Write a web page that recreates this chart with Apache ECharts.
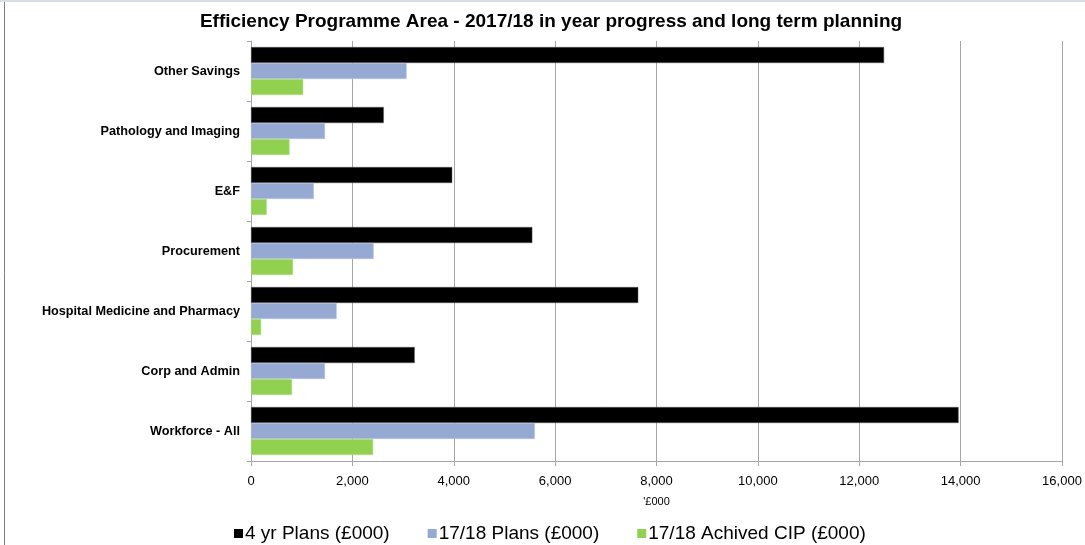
<!DOCTYPE html>
<html>
<head>
<meta charset="utf-8">
<script src="https://cdn.jsdelivr.net/npm/echarts@6/dist/echarts.min.js"></script>
<style>
  html, body { margin: 0; padding: 0; background: #ffffff; }
  #chart { width: 1085px; height: 545px; }
</style>
</head>
<body>
<div id="chart"></div>
<script>
// Programme areas, listed top to bottom
const categories = [
  'Other Savings',
  'Pathology and Imaging',
  'E&F',
  'Procurement',
  'Hospital Medicine and Pharmacy',
  'Corp and Admin',
  'Workforce - All'
];

// Values in £000
const fourYearPlans = [12490, 2620, 3970, 5550, 7640, 3230, 13960];
const plans1718 = [3070, 1460, 1240, 2420, 1690, 1460, 5600];
const achievedCIP1718 = [1030, 760, 310, 830, 200, 810, 2410];

const seriesNames = ['4 yr Plans (£000)', '17/18 Plans (£000)', '17/18 Achived CIP (£000)'];
const xTickMax = 16000;
const xTickStep = 2000;

const FONT = 'Liberation Sans, Arial, sans-serif';

const chart = echarts.init(document.getElementById('chart'));

chart.setOption({
  animation: false,
  backgroundColor: '#ffffff',
  title: {
    text: 'Efficiency Programme Area - 2017/18 in year progress and long term planning',
    left: 546,
    textAlign: 'center',
    top: 7,
    textStyle: { fontFamily: FONT, fontWeight: 'bold', fontSize: 19, color: '#000000' }
  },
  graphic: [
    { type: 'rect', shape: { x: 0, y: 0, width: 1085, height: 2 }, style: { fill: '#d6dee8' }, silent: true },
    { type: 'line', shape: { x1: 4.5, y1: 2, x2: 4.5, y2: 545 }, style: { stroke: '#7f7f7f', lineWidth: 1 }, silent: true }
  ],
  legend: {
    data: seriesNames,
    left: 229,
    top: 519,
    itemWidth: 9,
    itemHeight: 9,
    itemGap: 38,
    icon: 'rect',
    itemStyle: { borderWidth: 0 },
    textStyle: { fontFamily: FONT, fontSize: 19, color: '#000000', padding: [0, 0, 0, -3] }
  },
  grid: { left: 251, right: 23, top: 41, bottom: 84, containLabel: false },
  xAxis: {
    type: 'value',
    min: 0,
    max: xTickMax,
    interval: xTickStep,
    name: "'£000",
    nameLocation: 'middle',
    nameGap: 35,
    nameTextStyle: { fontFamily: FONT, fontSize: 11, color: '#000000' },
    axisLine: { show: true, lineStyle: { color: '#a6a6a6', width: 1 } },
    axisTick: { show: true, length: 5, lineStyle: { color: '#a6a6a6' } },
    axisLabel: {
      fontFamily: FONT,
      fontSize: 13,
      color: '#000000',
      margin: 14,
      formatter: v => v.toLocaleString('en-GB')
    },
    splitLine: { show: true, lineStyle: { color: '#a6a6a6', width: 1 } }
  },
  yAxis: {
    type: 'category',
    data: categories,
    inverse: true,
    axisLine: { show: true, lineStyle: { color: '#a6a6a6', width: 1 } },
    axisTick: { show: true, length: 4, lineStyle: { color: '#a6a6a6' } },
    axisLabel: {
      fontFamily: FONT,
      fontSize: 12.7,
      fontWeight: 'bold',
      color: '#000000',
      margin: 11
    }
  },
  series: [
    {
      name: seriesNames[0], type: 'bar', data: fourYearPlans,
      barGap: '0%', barCategoryGap: '20%',
      itemStyle: { color: '#000000', borderColor: '#5a5a5a', borderWidth: 0.5 }
    },
    {
      name: seriesNames[1], type: 'bar', data: plans1718,
      barGap: '0%', barCategoryGap: '20%',
      itemStyle: { color: '#95a9d2', borderColor: '#b8c6e3', borderWidth: 0.5 }
    },
    {
      name: seriesNames[2], type: 'bar', data: achievedCIP1718,
      barGap: '0%', barCategoryGap: '20%',
      itemStyle: { color: '#92d050', borderColor: '#b5e08f', borderWidth: 0.5 }
    }
  ]
});
</script>
</body>
</html>
